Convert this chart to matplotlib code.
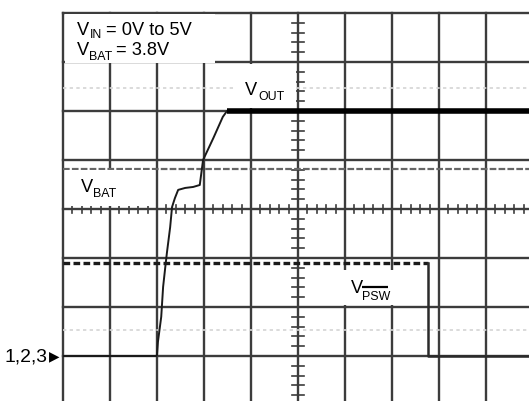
import matplotlib
matplotlib.use("Agg")
import matplotlib.pyplot as plt
from matplotlib import font_manager
from matplotlib.patches import Rectangle

fam = 'DejaVu Sans'
for cand in ('Liberation Sans', 'Arial', 'Helvetica'):
    try:
        font_manager.findfont(cand, fallback_to_default=False)
        fam = cand
        break
    except Exception:
        pass
plt.rcParams['font.family'] = [fam, 'DejaVu Sans']

# ---- data (in screen divisions) ----
vout_t = [0.0, 1.98, 2.00, 2.02, 2.09, 2.13, 2.17, 2.21, 2.28, 2.32, 2.38, 2.45,
          2.60, 2.77, 2.91, 2.98, 3.20, 3.40, 3.49, 10.0]
vout_v = [1.0, 1.0, 1.02, 1.29, 1.80, 2.41, 2.76, 3.10, 3.63, 4.04, 4.22, 4.39,
          4.43, 4.45, 4.49, 5.00, 5.45, 5.88, 6.00, 6.00]
vbat_t = [0.0, 10.0]
vbat_v = [4.82, 4.82]
vpsw_high_t = [0.0, 7.77]
vpsw_high_v = [2.9, 2.9]
vpsw_low_t = [7.77, 7.77, 10.0]
vpsw_low_v = [2.9, 1.0, 1.0]
ghost_levels = [6.47, 1.53]

W, H = 529, 401
fig = plt.figure(figsize=(W / 100, H / 100), dpi=100)
ax = fig.add_axes([63 / W, (401 - 405) / H, 470 / W, 392 / H])
ax.set_xlim(0, 10)
ax.set_ylim(0, 8)
ax.axis('off')
renderer = fig.canvas.get_renderer()


def px(x, y):
    """image pixel -> screen divisions"""
    return (x - 63) / 47.0, (405 - y) / 49.0


gc = '#3c3c3c'
for i in range(11):
    ax.axvline(i, color=gc, lw=1.7, zorder=1, clip_on=False)
for j in range(9):
    ax.axhline(j, color=gc, lw=1.7, zorder=1, clip_on=False)
for k in range(0, 41):
    y = k * 0.2
    ax.plot([4.87, 5.12], [y, y], color=gc, lw=1.2, zorder=1)
for k in range(0, 51):
    x = k * 0.2
    ax.plot([x, x], [3.92, 4.08], color=gc, lw=1.2, zorder=1)

for g in ghost_levels:
    ax.plot([0, 10], [g, g], color='#d4d4d4', lw=1.2, ls=(0, (2, 2)), zorder=1)

ax.plot(vbat_t, vbat_v, color='#666666', lw=1.6, ls=(0, (3, 1)), zorder=2)
ax.plot(vpsw_high_t, vpsw_high_v, color='#1a1a1a', lw=2.4, ls=(0, (2, 1)), zorder=3)
ax.plot(vpsw_low_t, vpsw_low_v, color='#2a2a2a', lw=1.8, zorder=3)
ax.plot(vout_t, vout_v, color='#1a1a1a', lw=1.4, zorder=3)
ax.plot(vout_t[-2:], vout_v[-2:], color='#000000', lw=4.0, zorder=3, solid_capstyle='butt')


def box(x0, y0, x1, y1):
    a, b = px(x0, y1)
    c, d = px(x1, y0)
    ax.add_patch(Rectangle((a, b), c - a, d - b, facecolor='white',
                           edgecolor='none', zorder=5, clip_on=False))


box(65, 14, 215, 63)
box(233, 64, 296, 108)
box(65, 170, 155, 206)
box(338, 270, 417, 305)


def measure(s, fs):
    t = ax.text(0, 0, s, fontsize=fs)
    w = t.get_window_extent(renderer).width
    t.remove()
    return w


# fit font sizes to the widths seen in the reference
FS = 14 * 86.0 / measure('= 0V to 5V', 14)
SFS = 10 * (24 + 26 + 28) / (measure('OUT', 10) + measure('BAT', 10) + measure('PSW', 10))
CFS = 14 * 43.0 / measure('1,2,3', 14)


def txt(xp, yp, s, fs, **kw):
    x, y = px(xp, yp)
    return ax.text(x, y, s, fontsize=fs, va='baseline', zorder=6, clip_on=False, **kw)


# V_IN = 0V to 5V
txt(77, 35, 'V', FS)
txt(90, 38, 'IN', SFS)
txt(106, 35, '= 0V to 5V', FS)
# V_BAT = 3.8V
txt(77, 55, 'V', FS)
txt(89, 60, 'BAT', SFS)
txt(116, 55, '= 3.8V', FS)
# V_OUT
txt(245, 95, 'V', FS)
txt(258, 100, 'OUT', SFS)
# V_BAT
txt(81, 192, 'V', FS)
txt(93, 197, 'BAT', SFS)
# V_PSW (overlined)
txt(351, 293, 'V', FS)
txt(362, 300, 'PSW', SFS)
ax.plot(*zip(px(362, 287), px(388, 287)), color='black', lw=1.6, zorder=7,
        solid_capstyle='butt')

# channel marker
txt(48, 361, '1,2,3', CFS, ha='right')
txt(49, 360, '\u25B6', CFS * 0.7, ha='left', family='DejaVu Sans')

fig.savefig('out.png', dpi=100)
